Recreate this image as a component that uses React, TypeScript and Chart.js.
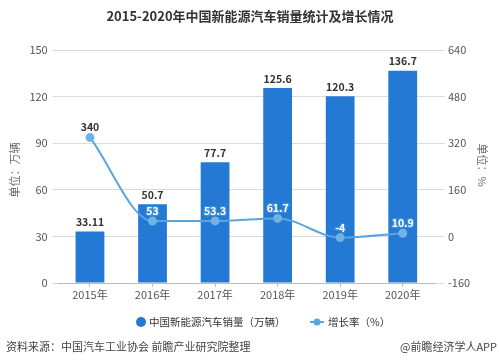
import React, { useEffect, useRef } from "react";
import { Chart, registerables } from "chart.js";

Chart.register(...registerables);

const categories = ["2015年", "2016年", "2017年", "2018年", "2019年", "2020年"];
const salesValues = [33.11, 50.7, 77.7, 125.6, 120.3, 136.7];
const salesLabels = ["33.11", "50.7", "77.7", "125.6", "120.3", "136.7"];
const growthValues = [340, 53, 53.3, 61.7, -4, 10.9];
const growthLabels = ["340", "53", "53.3", "61.7", "-4", "10.9"];
const leftTicks = [0, 30, 60, 90, 120, 150];
const rightTicks = [-160, 0, 160, 320, 480, 640];

const TITLE = "2015-2020年中国新能源汽车销量统计及增长情况";
const LEGEND_BAR = "中国新能源汽车销量（万辆）";
const LEGEND_LINE = "增长率（%）";
const LEFT_TITLE = "单位：万辆";
const RIGHT_TITLE = "单位：%";
const SOURCE = "资料来源：中国汽车工业协会 前瞻产业研究院整理";
const CREDIT = "@前瞻经济学人APP";

const FONT = '"Noto Sans CJK SC", "Microsoft YaHei", sans-serif';
const BAR_COLOR = "#2379d3";
const LINE_COLOR = "#5ba5de";

const decorPlugin = {
  id: "decor",
  afterDatasetsDraw(chart: any) {
    const ctx = chart.ctx as CanvasRenderingContext2D;
    const barMeta = chart.getDatasetMeta(1);
    const lineMeta = chart.getDatasetMeta(0);
    ctx.save();
    // bar labels
    ctx.font = "bold 10.5px " + FONT;
    ctx.textAlign = "center";
    ctx.textBaseline = "bottom";
    ctx.fillStyle = "#333";
    barMeta.data.forEach((el: any, i: number) => {
      ctx.fillText(salesLabels[i], el.x, el.y - 4);
    });
    // line labels
    lineMeta.data.forEach((el: any, i: number) => {
      const bar = barMeta.data[i];
      const ly = el.y - 10;
      const inside = ly > bar.y + 4;
      ctx.font = "bold 10.5px " + FONT;
      ctx.textAlign = "center";
      ctx.textBaseline = "middle";
      if (inside) {
        ctx.lineWidth = 2.5;
        ctx.strokeStyle = "#3f8fd6";
        ctx.lineJoin = "round";
        ctx.strokeText(growthLabels[i], el.x, ly);
        ctx.fillStyle = "#ffffff";
        ctx.fillText(growthLabels[i], el.x, ly);
      } else {
        ctx.fillStyle = "#333";
        ctx.fillText(growthLabels[i], el.x, ly);
      }
    });
    ctx.restore();
  },
  afterDraw(chart: any) {
    const ctx = chart.ctx as CanvasRenderingContext2D;
    ctx.save();
    // title
    ctx.font = "bold 13px " + FONT;
    ctx.fillStyle = "#333";
    ctx.textAlign = "center";
    ctx.textBaseline = "middle";
    ctx.fillText(TITLE, 250, 16);

    // axis titles
    ctx.font = "11px " + FONT;
    ctx.fillStyle = "#666";
    ctx.save();
    ctx.translate(15, 170);
    ctx.rotate(-Math.PI / 2);
    ctx.fillText(LEFT_TITLE, 0, 0);
    ctx.restore();
    ctx.save();
    ctx.translate(482, 165);
    ctx.rotate(Math.PI / 2);
    ctx.fillText(RIGHT_TITLE, 0, 0);
    ctx.restore();

    // legend
    const ly = 322;
    ctx.fillStyle = BAR_COLOR;
    ctx.beginPath();
    ctx.arc(141, ly, 5, 0, Math.PI * 2);
    ctx.fill();
    ctx.font = "10.5px " + FONT;
    ctx.fillStyle = "#333";
    ctx.textAlign = "left";
    ctx.fillText(LEGEND_BAR, 149, ly);
    ctx.strokeStyle = LINE_COLOR;
    ctx.lineWidth = 2;
    ctx.beginPath();
    ctx.moveTo(310, ly);
    ctx.lineTo(324, ly);
    ctx.stroke();
    ctx.fillStyle = LINE_COLOR;
    ctx.beginPath();
    ctx.arc(317, ly, 3.5, 0, Math.PI * 2);
    ctx.fill();
    ctx.fillStyle = "#333";
    ctx.fillText(LEGEND_LINE, 328, ly);

    // footer
    ctx.font = "11px " + FONT;
    ctx.fillStyle = "#444";
    ctx.textAlign = "left";
    ctx.fillText(SOURCE, 6, 347);
    ctx.textAlign = "right";
    ctx.fillText(CREDIT, 497, 347);
    ctx.restore();
  },
};

export default function App() {
  const ref = useRef<HTMLCanvasElement>(null);
  useEffect(() => {
    if (!ref.current) return;
    Chart.defaults.font.family = FONT;
    const chart = new Chart(ref.current, {
      type: "bar",
      data: {
        labels: categories,
        datasets: [
          {
            type: "line",
            label: LEGEND_LINE,
            data: growthValues,
            yAxisID: "y1",
            borderColor: LINE_COLOR,
            backgroundColor: LINE_COLOR,
            borderWidth: 2,
            pointRadius: 3.5,
            pointBackgroundColor: "#6fb3e6",
            pointBorderColor: "#6fb3e6",
            cubicInterpolationMode: "monotone",
            order: 0,
          } as any,
          {
            type: "bar",
            label: LEGEND_BAR,
            data: salesValues,
            yAxisID: "y",
            backgroundColor: BAR_COLOR,
            categoryPercentage: 1,
            barPercentage: 0.46,
            order: 1,
          } as any,
        ],
      },
      options: {
        responsive: false,
        animation: false,
        layout: { padding: { top: 50, left: 0, right: 0, bottom: 0 } },
        plugins: {
          legend: { display: false },
          title: { display: false },
          tooltip: { enabled: false },
        },
        scales: {
          x: {
            offset: true,
            grid: {
              offset: false,
              drawOnChartArea: false,
              drawTicks: true,
              tickLength: 4,
              color: "#bbb",
            },
            border: { color: "#bbb" },
            ticks: { color: "#555", font: { size: 11 }, padding: 1 },
            afterFit: (s: any) => {
              s.height = 80;
            },
          },
          y: {
            position: "left",
            min: 0,
            max: 150,
            afterBuildTicks: (s: any) => {
              s.ticks = leftTicks.map((v) => ({ value: v }));
            },
            grid: { color: "#dcdcdc", tickLength: 6 },
            border: { display: false },
            ticks: { color: "#555", font: { size: 11 }, padding: 5 },
            afterFit: (s: any) => {
              s.width = 58.7;
            },
          },
          y1: {
            position: "right",
            min: -160,
            max: 640,
            afterBuildTicks: (s: any) => {
              s.ticks = rightTicks.map((v) => ({ value: v }));
            },
            grid: { drawOnChartArea: false, color: "#dcdcdc", tickLength: 11 },
            border: { display: false },
            ticks: { color: "#555", font: { size: 11 }, padding: 3 },
            afterFit: (s: any) => {
              s.width = 65;
            },
          },
        },
      } as any,
      plugins: [decorPlugin],
    });
    return () => chart.destroy();
  }, []);
  return (
    <div style={{ position: "absolute", left: 0, top: 0, width: 499, height: 363, background: "#fff" }}>
      <canvas ref={ref} width={499} height={363} style={{ display: "block" }} />
    </div>
  );
}
